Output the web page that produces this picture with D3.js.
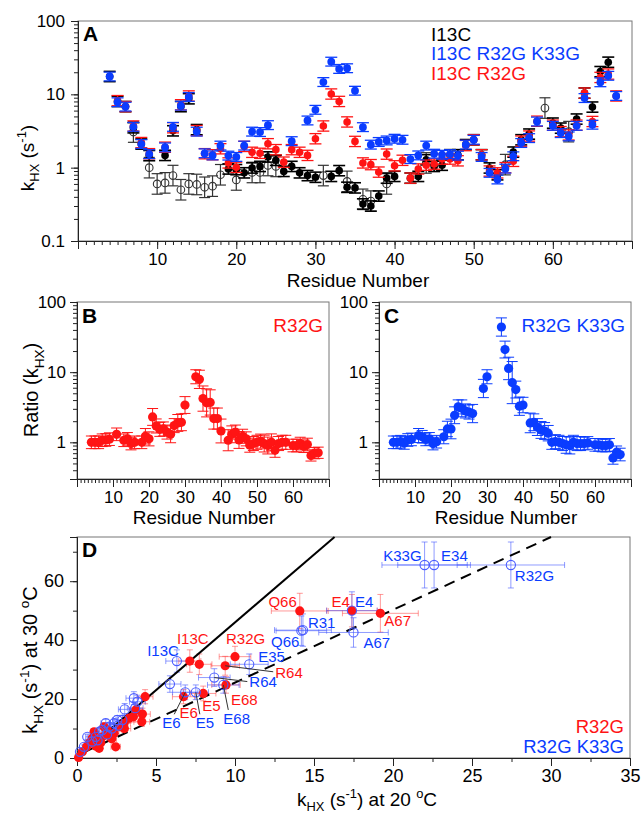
<!DOCTYPE html>
<html><head><meta charset="utf-8">
<script src="https://cdn.jsdelivr.net/npm/d3@7"></script>
<style>
body{margin:0;background:#fff}
text{font-family:"Liberation Sans",Arial,Helvetica,sans-serif}
</style>
</head><body>
<svg id="c" width="643" height="813"></svg>
<script>
// ---------------- DATA ----------------
// Panel A: k_HX (s^-1) vs residue  [residue, value]
const i13cFilled = [[4,17.5],[5,8.0],[6,6.8],[7,3.5],[8,2.1],[9,1.46],[11,1.47],[12,3.18],[13,6.8],[14,8.7],[15,3.3],
 [19,0.96],[20,0.94],[21,0.85],[22,0.99],[23,1.04],[24,1.40],[25,1.26],[26,0.89],[27,1.04],[28,0.85],[29,0.78],[30,0.74],
 [32,0.76],[33,0.91],[34,0.54],[35,0.53],[36,0.32],[37,0.30],[38,0.41],[39,0.72],[40,0.76],[42,0.72],[43,0.76],[44,1.28],
 [45,1.04],[46,1.08],[47,1.5],[48,1.5],[49,2.06],[50,2.4],[51,1.5],[52,0.99],[53,0.80],[55,1.63],[56,2.4],[57,2.87],
 [60,4.05],[61,3.46],[63,4.6],[64,10.4],[65,6.7],[66,20.4],[67,27.4]];
const i13cOpen = [[7,3.06],[9,1.0],[10,0.6],[11,0.62],[12,0.78],[13,0.50],[14,0.6],[15,0.59],[16,0.54],[17,0.56],[18,0.80],
 [20,0.68],[22,0.86],[23,0.86],[24,1.07],[25,1.04],[31,0.78],[34,0.65],[36,0.37],[37,0.35],[39,0.6],[44,1.16],[54,1.1],[59,6.5],[62,3.1]];
const i13cR32G = [[5,8.2],[6,6.8],[7,3.7],[8,2.2],[9,1.55],[11,1.9],[12,3.5],[13,7.2],[14,9.5],[15,3.2],[16,1.55],[17,1.5],
 [18,1.81],[19,1.16],[20,1.01],[21,1.95],[22,1.62],[23,1.57],[24,2.12],[25,1.76],[26,1.19],[27,1.76],[28,1.62],[29,1.47],
 [30,2.48],[31,3.7],[32,10.1],[33,8.0],[34,4.2],[35,2.28],[36,1.16],[37,1.1],[38,0.87],[39,1.53],[40,1.06],[41,1.26],
 [42,0.72],[43,0.96],[44,1.08],[45,1.12],[46,1.31],[47,1.31],[48,1.24],[49,2.0],[50,2.4],[51,1.5],[52,0.9],[53,0.85],
 [54,1.0],[55,1.22],[56,2.3],[57,2.7],[58,4.3],[60,3.8],[61,3.1],[62,2.8],[63,3.8],[64,10.4],[65,4.26],[66,17],[67,18.9],[68,9.5]];
const i13cR32GK33G = [[4,17.5],[5,7.8],[6,6.8],[7,3.6],[8,2.1],[9,1.53],[11,1.89],[12,3.6],[13,7.0],[14,9.2],[15,3.1],
 [16,1.57],[17,1.47],[18,2.0],[19,1.46],[20,1.40],[21,2.0],[22,3.1],[23,3.06],[24,3.8],[27,2.3],[29,4.4],[30,6.15],
 [31,14.7],[32,27.9],[33,22.2],[34,22.7],[35,11.2],[36,3.57],[37,2.06],[38,2.24],[39,2.35],[40,2.48],[41,2.4],[42,1.31],
 [43,1.47],[44,2.0],[45,1.55],[46,1.5],[47,1.53],[48,1.46],[49,2.06],[50,2.4],[51,1.40],[52,0.85],[53,0.69],[54,0.97],
 [55,1.43],[56,2.17],[57,2.53],[58,4.26],[60,3.72],[61,2.96],[62,2.67],[63,3.72],[64,8.9],[65,3.85],[66,14.6],[67,17.9],[68,9.5]];
// error half-widths in log10 units
const errA = {filled:0.07, open:0.14, r32g:0.07, k33g:0.06};
const legendA = ["I13C","I13C R32G K33G","I13C R32G"];

// Panel B / C: ratio  [residue, ratio, log10 half-error]
const ratioR32G = [[4,1.0,.09],[5,1.0,.09],[6,1.0,.09],[7,1.07,.09],[8,1.08,.09],[9,1.11,.09],[11,1.3,.09],[13,1.07,.09],
 [14,1.12,.09],[15,0.96,.09],[16,1.0,.09],[18,1.0,.09],[19,1.22,.11],[20,1.12,.1],[21,2.3,.12],[22,1.71,.1],[23,1.53,.1],
 [24,1.55,.1],[25,1.4,.1],[26,1.3,.12],[27,1.73,.1],[28,1.89,.12],[29,1.93,.12],[30,3.4,.12],[33,8.6,.1],[34,7.9,.13],
 [35,4.2,.18],[36,3.65,.2],[37,3.7,.18],[38,2.18,.15],[39,2.18,.15],[40,1.45,.17],[42,1.07,.15],[43,1.3,.12],[44,1.4,.1],
 [45,1.08,.12],[46,1.22,.1],[47,1.12,.1],[48,0.91,.1],[49,0.96,.1],[50,1.0,.1],[51,1.04,.1],[52,0.96,.12],[53,0.9,.12],
 [54,1.0,.12],[55,0.77,.1],[56,0.96,.1],[57,1.0,.1],[58,1.0,.1],[60,0.9,.09],[61,0.9,.09],[62,0.96,.09],[63,0.88,.09],
 [64,0.93,.09],[65,0.65,.08],[66,0.7,.08],[67,0.71,.08]];
const ratioR32GK33G = [[4,1.0,.09],[5,1.0,.09],[6,1.02,.09],[7,0.98,.09],[8,1.08,.09],[9,1.1,.09],[11,1.25,.1],[12,1.2,.09],
 [13,1.1,.09],[14,1.12,.09],[15,0.96,.09],[16,1.02,.09],[18,1.2,.1],[19,1.55,.11],[20,1.55,.14],[21,2.43,.12],[22,3.2,.1],
 [23,3.05,.12],[24,2.8,.1],[25,2.7,.1],[26,2.57,.13],[29,5.85,.13],[30,8.6,.1],[34,44,.13],[35,21,.12],[36,11.3,.16],
 [37,7.1,.3],[38,5.65,.12],[39,3.27,.13],[40,3.4,.11],[42,1.89,.14],[43,1.93,.12],[44,1.65,.12],[45,1.5,.12],[46,1.45,.12],
 [47,1.35,.11],[48,1.0,.1],[49,1.02,.1],[50,1.0,.1],[51,0.96,.1],[52,0.92,.12],[53,0.9,.12],[54,1.0,.1],[55,0.96,.1],
 [56,0.96,.1],[57,0.96,.09],[58,0.98,.09],[60,0.92,.09],[61,0.92,.09],[62,0.9,.09],[63,0.9,.09],[64,0.92,.09],
 [65,0.6,.09],[66,0.72,.09],[67,0.67,.09]];

// Panel D: [kHX at 20 C, kHX at 30 C, xerr, yerr, label]
const tempR32G = [[14.1,49.9,1.8,6.0,"Q66"],[7.14,32.9,0.7,3.8,"I13C"],[7.74,31.8,0.8,3.5,""],[10.0,34.4,1.0,3.5,"R32G"],
 [9.38,31.3,0.9,3.2,"R64"],[9.43,24.8,0.9,2.8,"E68"],[7.99,21.9,0.8,2.5,"E5"],[6.74,20.8,0.7,2.4,"E6"],
 [17.4,50.0,1.6,5.5,"E4"],[19.2,49.1,2.4,6.4,"A67"],
 [4.31,20.8,0.5,2.4,""],[4.14,14.9,0.5,2,""],[4.1,12.3,0.5,1.6,""],[3.72,16.3,0.4,2,""],[3.57,14.0,0.4,1.8,""],
 [3.3,13.5,0.4,1.6,""],[2.98,11.8,0.4,1.5,""],[2.77,10.6,0.3,1.4,""],[2.45,3.8,0.3,0.8,""],[2.35,8.4,0.3,1.1,""],
 [2.03,7.8,0.3,1,""],[1.92,9.5,0.3,1.2,""],[1.6,7.2,0.2,1,""],[1.4,3.3,0.2,0.6,""],[1.29,6.1,0.2,0.8,""],
 [1.08,8.9,0.2,1.1,""],[0.97,6.7,0.2,0.9,""],[0.76,5.0,0.1,0.7,""],[0.61,3.8,0.1,0.6,""],[0.34,2.1,0.1,0.4,""],
 [0.1,0.2,0.05,0.1,""],[1.71,10.6,0.2,1.3,""],[1.5,5.2,0.2,0.7,""],[2.2,6.5,0.3,0.9,""],[3.0,10.0,0.4,1.3,""],[1.2,4.0,0.2,0.6,""]];
const tempR32GK33G = [[22.0,65.5,2.7,7.8,"K33G"],[22.6,65.5,2.3,7.8,"E34"],[27.46,65.5,3.4,7.8,"R32G"],[17.4,50.0,1.6,6.4,"E4"],
 [17.5,42.6,2.2,5.0,"A67"],[14.3,43.4,1.8,5.5,"R31"],[14.2,43.2,1.6,5.0,"Q66"],[10.9,31.8,1.2,3.5,"E35"],
 [8.69,27.3,1.0,3.0,"R64"],[9.26,24.8,1.0,2.8,"E68"],[7.52,22.3,0.8,2.5,"E5"],[6.85,22.3,0.8,2.5,"E6"],
 [6.32,32.9,0.7,3.8,"I13C"],[5.88,25.1,0.7,2.8,""],
 [3.68,16.9,0.5,2,""],[3.82,19.1,0.5,2.2,""],[3.6,20.3,0.5,2.2,""],[3.02,16.5,0.4,2,""],[2.87,12.9,0.4,1.6,""],
 [2.55,12.9,0.3,1.5,""],[2.35,11.8,0.3,1.4,""],[2.03,10.6,0.3,1.3,""],[1.82,11.8,0.3,1.4,""],[1.6,9.5,0.2,1.2,""],
 [1.4,8.9,0.2,1.1,""],[1.19,7.2,0.2,1,""],[0.65,7.2,0.1,0.9,""],[0.97,5.6,0.2,0.8,""],[0.44,3.8,0.1,0.6,""],
 [0.19,2.1,0.1,0.4,""],[2.2,10.0,0.3,1.3,""],[1.9,8.0,0.3,1.1,""],[1.3,6.0,0.2,0.8,""],[2.6,11.0,0.3,1.4,""]];
// reference lines in D: [x0,y0,x1,y1]
const lineSolid = [0,0,16.3,75];
const lineDashed = [0.5,2.1,30,75];
const legendD = ["R32G","R32G K33G"];

// label layout (pixel offsets from the point): anchor, dx, dy, optional leader end [lx,ly]
const labelLayoutRed = {"Q66":["end",-3,-4],"I13C":["middle",3,-17],"R32G":["start",-9,-13],"R64":["start",50,12,[48,6]],
 "E68":["start",5,20],"E5":["start",-1,18],"E6":["start",-4,21],"E4":["end",-2,-4],"A67":["start",4,13]};
const labelLayoutBlue = {"K33G":["end",-3,-4],"E34":["start",7,-4],"R32G":["start",4,16],"E4":["start",3,-4],
 "A67":["start",10,16],"R31":["start",5,-2],"Q66":["end",-2,16],"E35":["start",9,-2],"R64":["start",35,9,[33,4]],
 "E68":["start",0,39,[5,25]],"E5":["start",0,36,[4,22]],"E6":["start",-23,36,[-11,22]],"I13C":["end",2,-5]};

// ---------------- DRAWING ----------------
const RED = "#ff1414", BLUE = "#0a3cff";
const svg = d3.select("#c");

function rich(x, y, parts, size, anchor, rotate, color) {
  const t = svg.append("text").attr("x", x).attr("y", y).attr("font-size", size)
    .attr("text-anchor", anchor || "middle").attr("fill", color || "#000");
  if (rotate) t.attr("transform", `rotate(-90,${x},${y})`);
  let cur = 0;
  parts.forEach(p => {
    const target = p.sub ? size * 0.28 : p.sup ? -size * 0.4 : 0;
    t.append("tspan").attr("dy", target - cur).attr("font-size", (p.sub || p.sup) ? size * 0.68 : size).text(p.t);
    cur = target;
  });
  return t;
}

function frame(x0, x1, y0, y1) {
  svg.append("rect").attr("x", x0).attr("y", y0).attr("width", x1 - x0).attr("height", y1 - y0)
    .attr("fill", "none").attr("stroke", "#777").attr("stroke-width", 1);
}

function axes(x, y, majX, minX, majY, minY, fsize, yfmt, padX, padY) {
  const [y0] = y.range(); const [x0] = x.range();
  const gx = svg.append("g").attr("transform", `translate(0,${y0})`);
  gx.call(d3.axisBottom(x).tickValues(minX).tickSize(4).tickFormat(""));
  gx.append("g").call(d3.axisBottom(x).tickValues(majX).tickSize(8).tickPadding(padX));
  const gy = svg.append("g").attr("transform", `translate(${x0},0)`);
  gy.call(d3.axisLeft(y).tickValues(minY).tickSize(4).tickFormat(""));
  gy.append("g").call(d3.axisLeft(y).tickValues(majY).tickSize(7).tickPadding(padY).tickFormat(yfmt));
  svg.selectAll("g .domain").attr("stroke", "#222");
  svg.selectAll("g .tick line").attr("stroke", "#222");
  [gx, gy].forEach(g => g.selectAll("text").attr("font-size", fsize).attr("fill", "#000")
    .attr("font-family", '"Liberation Sans",Arial,sans-serif'));
}

function vErr(g, x, lo, hi, color, cap, sw) {
  g.append("line").attr("x1", x).attr("x2", x).attr("y1", lo).attr("y2", hi).attr("stroke", color).attr("stroke-width", sw);
  [lo, hi].forEach(v => g.append("line").attr("x1", x - cap / 2).attr("x2", x + cap / 2).attr("y1", v).attr("y2", v)
    .attr("stroke", color).attr("stroke-width", sw));
}

// ===== Panel A =====
const xA = d3.scaleLinear().domain([0, 70]).range([78, 632]);
const yA = d3.scaleLog().domain([0.1, 100]).range([241, 21]);
frame(78, 632, 21, 241);
axes(xA, yA, [10,20,30,40,50,60], d3.range(0, 71), [0.1,1,10,100], yA.ticks(), 17, d => String(d), 4, 6);

function seriesA(data, color, err, open, cap, sw, r) {
  const g = svg.append("g");
  data.forEach(d => vErr(g, xA(d[0]), yA(d[1] * Math.pow(10, -err)), yA(d[1] * Math.pow(10, err)), color, cap, sw));
  g.selectAll("circle").data(data).join("circle").attr("cx", d => xA(d[0])).attr("cy", d => yA(d[1])).attr("r", r)
    .attr("fill", open ? "none" : color).attr("stroke", color).attr("stroke-width", open ? 1.1 : 0);
}
seriesA(i13cOpen, "#333", errA.open, true, 11, 1.2, 3.8);
seriesA(i13cFilled, "#000", errA.filled, false, 12, 1.6, 3.8);
seriesA(i13cR32G, RED, errA.r32g, false, 12, 1.3, 3.8);
seriesA(i13cR32GK33G, BLUE, errA.k33g, false, 12, 1.3, 3.9);

svg.append("text").attr("x", 83).attr("y", 41).attr("font-size", 21).attr("font-weight", "bold").text("A");
[ "#000", BLUE, RED ].forEach((c, i) => svg.append("text").attr("x", 431).attr("y", 41 + i * 19.3)
  .attr("font-size", 19).attr("fill", c).text(legendA[i]));
svg.append("text").attr("x", 358).attr("y", 287).attr("font-size", 19).attr("text-anchor", "middle").text("Residue Number");
rich(34, 158, [{t:"k"},{t:"HX",sub:true},{t:" (s"},{t:"-1",sup:true},{t:")"}], 19, "middle", true);

// ===== Panel B & C =====
function ratioPanel(x0, x1, data, color, letter, label) {
  const x = d3.scaleLinear().domain([0, 70]).range([x0, x1]);
  const y = d3.scaleLog().domain([0.3, 100]).range([479, 302]);
  frame(x0, x1, 302, 479);
  axes(x, y, [10,20,30,40,50,60], d3.range(0, 71), [1,10,100], y.ticks(), 17, d => String(d), 4, 4);
  const g = svg.append("g");
  data.forEach(d => vErr(g, x(d[0]), y(d[1] * Math.pow(10, -d[2])), y(d[1] * Math.pow(10, d[2])), color, 11, 1));
  g.selectAll("circle").data(data).join("circle").attr("cx", d => x(d[0])).attr("cy", d => y(d[1])).attr("r", 4.6).attr("fill", color);
  svg.append("text").attr("x", x0 + 5).attr("y", 323).attr("font-size", 21).attr("font-weight", "bold").text(letter);
  svg.append("text").attr("x", x1 - 6).attr("y", 332).attr("font-size", 19).attr("text-anchor", "end").attr("fill", color).text(label);
  svg.append("text").attr("x", (x0 + x1) / 2 + 1).attr("y", 524).attr("font-size", 19).attr("text-anchor", "middle").text("Residue Number");
}
ratioPanel(77, 329, ratioR32G, RED, "B", "R32G");
ratioPanel(379, 631, ratioR32GK33G, BLUE, "C", "R32G K33G");
rich(38, 390, [{t:"Ratio (k"},{t:"HX",sub:true},{t:")"}], 20, "middle", true);

// ===== Panel D =====
const xD = d3.scaleLinear().domain([0, 35]).range([77, 630]);
const yD = d3.scaleLinear().domain([0, 75]).range([758, 537]);
frame(77, 630, 537, 758);
axes(xD, yD, d3.range(0, 36, 5), d3.range(0, 36, 2.5), [0,20,40,60], [0,10,20,30,40,50,60,70], 18, d => String(d), 3, 6);
svg.append("text").attr("x", 82).attr("y", 557).attr("font-size", 21).attr("font-weight", "bold").text("D");

const errRed = "rgba(255,70,70,0.55)", errBlue = "rgba(70,90,255,0.6)";
function errD(g, data, color) {
  data.forEach(d => {
    const px = xD(d[0]), py = yD(d[1]);
    const xl = xD(d[0] - d[2]), xr = xD(d[0] + d[2]), yt = yD(d[1] + d[3]), yb = yD(d[1] - d[3]);
    g.append("line").attr("x1", xl).attr("x2", xr).attr("y1", py).attr("y2", py).attr("stroke", color).attr("stroke-width", 1);
    [xl, xr].forEach(v => g.append("line").attr("x1", v).attr("x2", v).attr("y1", py - 3).attr("y2", py + 3).attr("stroke", color));
    g.append("line").attr("x1", px).attr("x2", px).attr("y1", yt).attr("y2", yb).attr("stroke", color).attr("stroke-width", 1);
    [yt, yb].forEach(v => g.append("line").attr("x1", px - 3).attr("x2", px + 3).attr("y1", v).attr("y2", v).attr("stroke", color));
  });
}
const gD = svg.append("g");
errD(gD, tempR32G, errRed);
errD(gD, tempR32GK33G, errBlue);
gD.append("line").attr("x1", xD(lineSolid[0])).attr("y1", yD(lineSolid[1])).attr("x2", xD(lineSolid[2])).attr("y2", yD(lineSolid[3]))
  .attr("stroke", "#000").attr("stroke-width", 2);
gD.append("line").attr("x1", xD(lineDashed[0])).attr("y1", yD(lineDashed[1])).attr("x2", xD(lineDashed[2])).attr("y2", yD(lineDashed[3]))
  .attr("stroke", "#000").attr("stroke-width", 2).attr("stroke-dasharray", "11,7");
gD.selectAll("circle.r").data(tempR32G).join("circle").attr("class", "r").attr("cx", d => xD(d[0])).attr("cy", d => yD(d[1]))
  .attr("r", 4.6).attr("fill", RED);
gD.selectAll("circle.b").data(tempR32GK33G).join("circle").attr("class", "b").attr("cx", d => xD(d[0])).attr("cy", d => yD(d[1]))
  .attr("r", 4.6).attr("fill", "none").attr("stroke", "#4a5cff").attr("stroke-width", 1.1);

function labelsD(data, layout, color) {
  data.filter(d => d[4]).forEach(d => {
    const L = layout[d[4]]; if (!L) return;
    const px = xD(d[0]), py = yD(d[1]);
    if (L[3]) gD.append("line").attr("x1", px).attr("y1", py).attr("x2", px + L[3][0]).attr("y2", py + L[3][1])
      .attr("stroke", "#333").attr("stroke-width", 1);
    gD.append("text").attr("x", px + L[1]).attr("y", py + L[2]).attr("text-anchor", L[0]).attr("font-size", 15)
      .attr("fill", color).text(d[4]);
  });
}
labelsD(tempR32G, labelLayoutRed, RED);
labelsD(tempR32GK33G, labelLayoutBlue, BLUE);

[RED, BLUE].forEach((c, i) => svg.append("text").attr("x", 624).attr("y", 733 + i * 19.5).attr("text-anchor", "end")
  .attr("font-size", 18.5).attr("fill", c).text(legendD[i]));

rich(367, 806, [{t:"k"},{t:"HX",sub:true},{t:" (s"},{t:"-1",sup:true},{t:") at 20 "},{t:"o",sup:true},{t:"C"}], 19, "middle", false);
rich(37, 660, [{t:"k"},{t:"HX",sub:true},{t:" (s"},{t:"-1",sup:true},{t:") at 30 "},{t:"o",sup:true},{t:"C"}], 20, "middle", true);
</script>
</body></html>
